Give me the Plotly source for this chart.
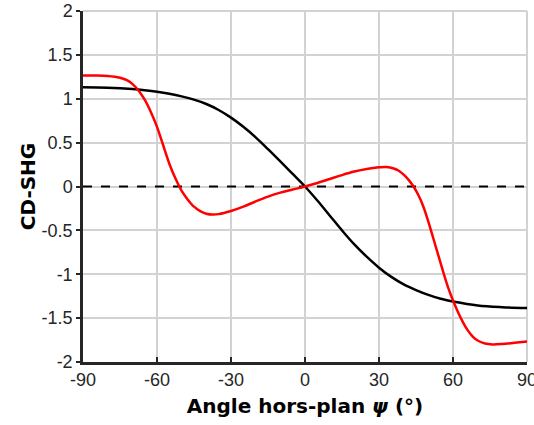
import plotly.graph_objects as go

# Black curve
black_x = [-90, -80, -70, -65, -60, -55, -50, -45, -40, -35, -30, -25, -20, -15, -10, -5, 0,
           5, 10, 15, 20, 25, 30, 35, 40, 45, 50, 55, 60, 70, 80, 90]
black_y = [1.13, 1.125, 1.11, 1.097, 1.08, 1.057, 1.027, 0.99, 0.94, 0.872, 0.785, 0.68, 0.56, 0.425, 0.285, 0.143, 0.0,
           -0.16, -0.33, -0.5, -0.66, -0.8, -0.925, -1.03, -1.115, -1.18, -1.235, -1.28, -1.31, -1.355, -1.375, -1.385]

# Red curve
red_x = [-90, -85, -80, -75, -72, -70, -67.5, -65, -62.5, -60, -57.5, -55, -52.5, -50, -47.5, -45,
         -42.5, -40, -37.5, -35, -30, -25, -20, -15, -10, -5, 0, 5, 10, 15, 20, 25, 30, 33, 36, 38,
         40, 42, 44, 46, 48, 50, 52, 54, 56, 58, 60, 62, 64, 66, 68, 70, 73, 76, 80, 85, 90]
red_y = [1.265, 1.265, 1.26, 1.24, 1.21, 1.17, 1.095, 0.99, 0.85, 0.68, 0.47, 0.26, 0.09, -0.05, -0.15, -0.23,
         -0.28, -0.31, -0.32, -0.315, -0.28, -0.23, -0.17, -0.115, -0.07, -0.035, 0.0, 0.04, 0.085, 0.13, 0.17, 0.2, 0.218, 0.222, 0.205, 0.18,
         0.135, 0.075, 0.0, -0.1, -0.23, -0.4, -0.59, -0.78, -0.97, -1.15, -1.3, -1.43, -1.545, -1.64, -1.71, -1.755, -1.79, -1.8, -1.795, -1.78, -1.765]

# Zero reference line
zero_x = [-90, 90]
zero_y = [0, 0]

x_ticks = [-90, -60, -30, 0, 30, 60, 90]
x_ticktext = ["-90", "-60", "-30", "0", "30", "60", "90"]
y_ticks = [-2, -1.5, -1, -0.5, 0, 0.5, 1, 1.5, 2]
y_ticktext = ["-2", "-1.5", "-1", "-0.5", "0", "0.5", "1", "1.5", "2"]

GRID = "#d2d2d2"

fig = go.Figure()
fig.add_trace(go.Scatter(x=zero_x, y=zero_y, mode="lines",
                         line=dict(color="black", width=2, dash="dash"), showlegend=False))
fig.add_trace(go.Scatter(x=black_x, y=black_y, mode="lines",
                         line=dict(color="black", width=2.5, shape="spline"), showlegend=False))
fig.add_trace(go.Scatter(x=red_x, y=red_y, mode="lines",
                         line=dict(color="#ff0000", width=2.5, shape="spline"), showlegend=False))

# light frame on top and right edges (grid-coloured)
fig.add_shape(type="line", xref="paper", yref="paper", x0=0, x1=1, y0=1, y1=1,
              line=dict(color=GRID, width=2), layer="below")
fig.add_shape(type="line", xref="paper", yref="paper", x0=1, x1=1, y0=0, y1=1,
              line=dict(color=GRID, width=2), layer="below")

fig.update_layout(
    width=534, height=425,
    margin=dict(l=83, r=7, t=11, b=63),
    plot_bgcolor="white", paper_bgcolor="white",
    font=dict(family="Arial, 'Liberation Sans', sans-serif", size=18, color="#262626"),
)
fig.update_xaxes(
    range=[-90, 90], tickvals=x_ticks, ticktext=x_ticktext,
    automargin=False, ticklabeloverflow="allow",
    showgrid=True, gridcolor=GRID, gridwidth=2,
    showline=True, linecolor="#262626", linewidth=2.5,
    ticks="inside", ticklen=5, tickwidth=2, tickcolor="#262626",
    zeroline=False,
    title=dict(text="Angle hors-plan <i>ψ</i> (°)", standoff=10,
               font=dict(family="DejaVu Sans, sans-serif", size=20, color="black", weight="bold")),
)
fig.update_yaxes(
    range=[-2, 2], tickvals=y_ticks, ticktext=y_ticktext,
    automargin=False, ticklabeloverflow="allow",
    showgrid=True, gridcolor=GRID, gridwidth=2,
    showline=True, linecolor="#262626", linewidth=2.5,
    ticks="outside", ticklen=4, tickwidth=2, tickcolor="#262626",
    zeroline=False,
    title=dict(text="CD-SHG", standoff=1,
               font=dict(family="DejaVu Sans, sans-serif", size=20, color="black", weight="bold")),
)

fig.write_html("out.html", config={"displayModeBar": False},
               post_script="document.body.style.margin='0px';")
